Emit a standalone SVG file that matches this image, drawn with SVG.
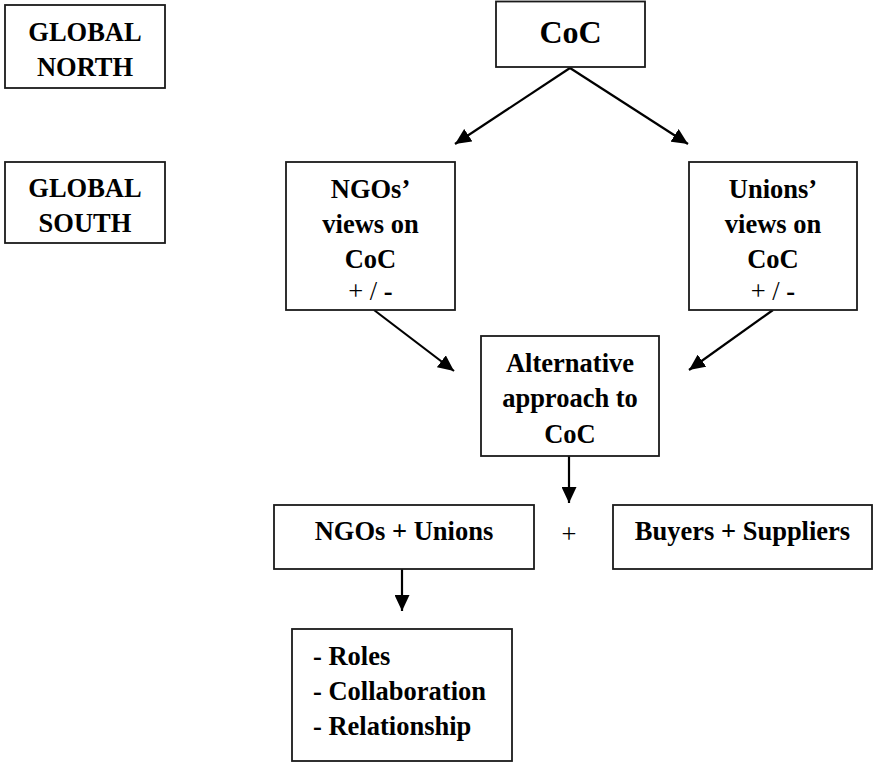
<svg xmlns="http://www.w3.org/2000/svg" width="874" height="763" viewBox="0 0 874 763">
<style>
  .box { fill: #ffffff; stroke: #1a1a1a; stroke-width: 1.8; }
  .t { font-family: "Liberation Serif", "Times New Roman", serif; font-weight: bold; font-size: 26.5px; fill: #000000; text-anchor: middle; }
  .tl { text-anchor: start; }
  .big { font-size: 32px; }
  .reg { font-weight: normal; }
  .conn { stroke: #000000; stroke-width: 2.2; fill: none; marker-end: url(#ah); }
</style>
<defs>
  <marker id="ah" markerUnits="userSpaceOnUse" markerWidth="17" markerHeight="15" refX="16" refY="7.5" orient="auto">
    <path d="M0,0 L16,7.5 L0,15 z" fill="#000000"/>
  </marker>
</defs>
<rect x="0" y="0" width="874" height="763" fill="#ffffff"/>

<g id="connectors">
  <line class="conn" x1="570" y1="68" x2="455" y2="144"/>
  <line class="conn" x1="570" y1="68" x2="688" y2="144"/>
  <line class="conn" x1="374" y1="310" x2="454" y2="371"/>
  <line class="conn" x1="773" y1="310" x2="689" y2="370"/>
  <line class="conn" x1="569" y1="456" x2="569" y2="503"/>
  <line class="conn" x1="402" y1="569" x2="402" y2="611"/>
</g>

<g id="global-north">
  <rect class="box" x="5" y="5" width="160" height="83"/>
  <text class="t" x="85" y="40.5">GLOBAL</text>
  <text class="t" x="85" y="76">NORTH</text>
</g>

<g id="global-south">
  <rect class="box" x="5" y="162" width="160" height="81"/>
  <text class="t" x="85" y="197">GLOBAL</text>
  <text class="t" x="85" y="232">SOUTH</text>
</g>

<g id="coc">
  <rect class="box" x="496" y="1.5" width="149" height="65.5"/>
  <text class="t big" x="570.5" y="43">CoC</text>
</g>

<g id="ngos-views">
  <rect class="box" x="286" y="162" width="169" height="148"/>
  <text class="t" x="370.5" y="198">NGOs’</text>
  <text class="t" x="370.5" y="233">views on</text>
  <text class="t" x="370.5" y="268">CoC</text>
  <text class="t" x="370.5" y="300"><tspan class="reg">+ / </tspan>-</text>
</g>

<g id="unions-views">
  <rect class="box" x="689" y="162" width="168" height="148"/>
  <text class="t" x="773" y="198">Unions’</text>
  <text class="t" x="773" y="233">views on</text>
  <text class="t" x="773" y="268">CoC</text>
  <text class="t" x="773" y="300"><tspan class="reg">+ / </tspan>-</text>
</g>

<g id="alternative">
  <rect class="box" x="481" y="336" width="178" height="120"/>
  <text class="t" x="570" y="372">Alternative</text>
  <text class="t" x="570" y="407">approach to</text>
  <text class="t" x="570" y="443">CoC</text>
</g>

<g id="ngos-unions">
  <rect class="box" x="274" y="505" width="260" height="64"/>
  <text class="t" x="404" y="540">NGOs + Unions</text>
</g>

<g id="plus">
  <text class="t reg" x="569" y="543">+</text>
</g>

<g id="buyers-suppliers">
  <rect class="box" x="613" y="505" width="259" height="64"/>
  <text class="t" x="742.5" y="540">Buyers + Suppliers</text>
</g>

<g id="roles">
  <rect class="box" x="292" y="629" width="220" height="132"/>
  <text class="t tl" x="313" y="665">- Roles</text>
  <text class="t tl" x="313" y="700">- Collaboration</text>
  <text class="t tl" x="313" y="735">- Relationship</text>
</g>
</svg>
